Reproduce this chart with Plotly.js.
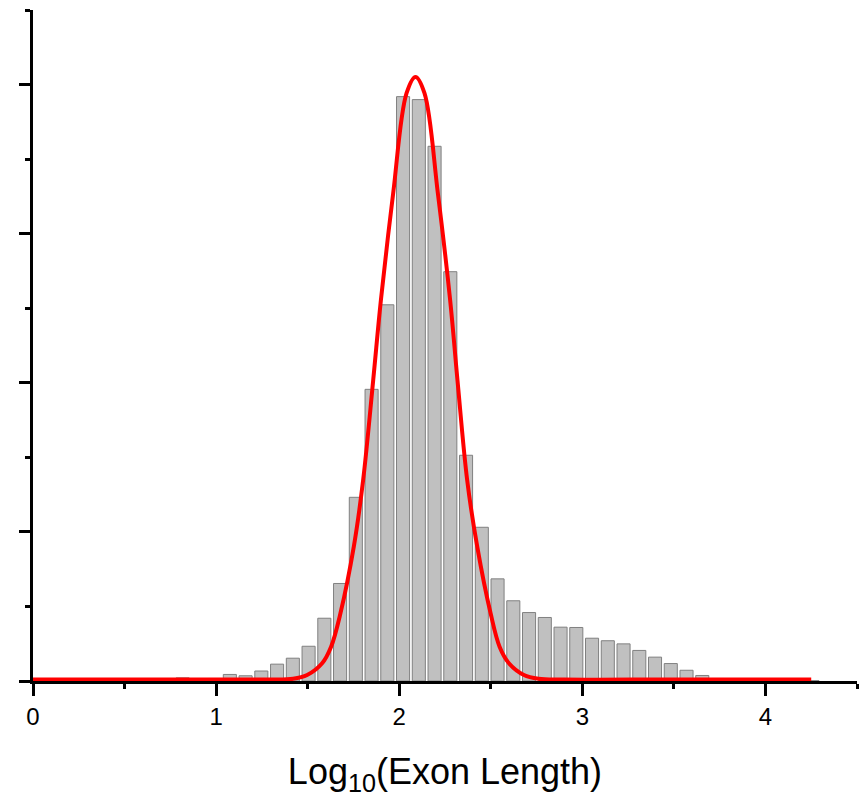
<!DOCTYPE html>
<html>
<head>
<meta charset="utf-8">
<script src="https://cdn.plot.ly/plotly-3.0.1.min.js"></script>
<style>
  html, body { margin: 0; padding: 0; background: #ffffff; }
  #chart { width: 865px; height: 797px; }
</style>
</head>
<body>
<div id="chart"></div>
<script>
// Histogram bin centres (log10 exon length)
var binCenters = [0.043, 0.129, 0.215, 0.301, 0.387, 0.473, 0.559, 0.645, 0.731, 0.817,
                  0.903, 0.989, 1.075, 1.161, 1.247, 1.333, 1.419, 1.505, 1.591, 1.677,
                  1.763, 1.849, 1.935, 2.021, 2.107, 2.193, 2.279, 2.365, 2.451, 2.537,
                  2.623, 2.709, 2.795, 2.881, 2.967, 3.053, 3.139, 3.225, 3.311, 3.397,
                  3.483, 3.569, 3.655, 3.741, 3.827, 3.913, 3.999, 4.085, 4.171, 4.257];
// Bar heights (arbitrary units, 1 = one major y tick)
var binHeights = [0.008, 0.003, 0.004, 0.005, 0.003, 0.006, 0.004, 0.007, 0.009, 0.021,
                  0.015, 0.017, 0.044, 0.035, 0.067, 0.113, 0.153, 0.233, 0.421, 0.654,
                  1.232, 1.956, 2.523, 3.919, 3.899, 3.586, 2.745, 1.514, 1.031, 0.685,
                  0.538, 0.459, 0.426, 0.361, 0.359, 0.287, 0.270, 0.249, 0.205, 0.160,
                  0.117, 0.072, 0.037, 0.017, 0.008, 0.005, 0.004, 0.003, 0.002, 0.002];
// Fitted curve
var fitX = [0, 0.5, 1.0, 1.3, 1.42, 1.497, 1.579, 1.628, 1.679, 1.752, 1.803, 1.858,
            1.900, 1.967, 2.040, 2.089, 2.138, 2.211, 2.278, 2.318, 2.371, 2.426, 2.499,
            2.548, 2.599, 2.681, 2.76, 2.9, 3.5, 4.25];
var fitY = [0.01, 0.01, 0.01, 0.01, 0.015, 0.04, 0.119, 0.230, 0.454, 0.901, 1.348, 2.019,
            2.555, 3.271, 3.942, 4.051, 3.942, 3.271, 2.555, 2.019, 1.348, 0.901, 0.454,
            0.230, 0.119, 0.04, 0.015, 0.01, 0.01, 0.01];
var xTickVals = [0, 1, 2, 3, 4];
var xTickText = ['0', '1', '2', '3', '4'];

var font = 'Liberation Sans, Arial, sans-serif';

var bars = {
  type: 'bar',
  x: binCenters,
  y: binHeights,
  marker: { color: '#c0c0c0', line: { color: '#808080', width: 1 } },
  hoverinfo: 'x+y'
};
var fit = {
  type: 'scatter',
  mode: 'lines',
  x: fitX,
  y: fitY,
  line: { color: '#ff0000', width: 4, shape: 'spline', smoothing: 1 },
  hoverinfo: 'x+y'
};

var layout = {
  width: 865,
  height: 797,
  margin: { l: 33, r: 8, t: 10, b: 116 },
  paper_bgcolor: '#ffffff',
  plot_bgcolor: '#ffffff',
  showlegend: false,
  bargap: 0.17,
  font: { family: font, size: 24, color: '#000000' },
  xaxis: {
    range: [0, 4.5],
    showgrid: false,
    zeroline: false,
    showline: true,
    linecolor: '#000000',
    linewidth: 3,
    ticks: 'outside',
    ticklen: 12,
    tickwidth: 3,
    tickcolor: '#000000',
    tickmode: 'array',
    tickvals: xTickVals,
    ticktext: xTickText,
    tickfont: { family: font, size: 24, color: '#000000' },
    minor: { dtick: 0.5, tick0: 0, ticks: 'outside', ticklen: 5, tickwidth: 3, tickcolor: '#000000', showgrid: false },
    title: { text: 'Log<sub>10</sub>(Exon Length)', font: { family: font, size: 36, color: '#000000' } }
  },
  yaxis: {
    range: [0, 4.5],
    showgrid: false,
    zeroline: false,
    showline: true,
    linecolor: '#000000',
    linewidth: 3,
    ticks: 'outside',
    ticklen: 11,
    tickwidth: 3,
    tickcolor: '#000000',
    dtick: 1,
    tick0: 0,
    showticklabels: false,
    minor: { dtick: 0.5, tick0: 0, ticks: 'outside', ticklen: 5, tickwidth: 3, tickcolor: '#000000', showgrid: false }
  }
};

Plotly.newPlot('chart', [bars, fit], layout, { displayModeBar: false, staticPlot: true });
</script>
</body>
</html>
